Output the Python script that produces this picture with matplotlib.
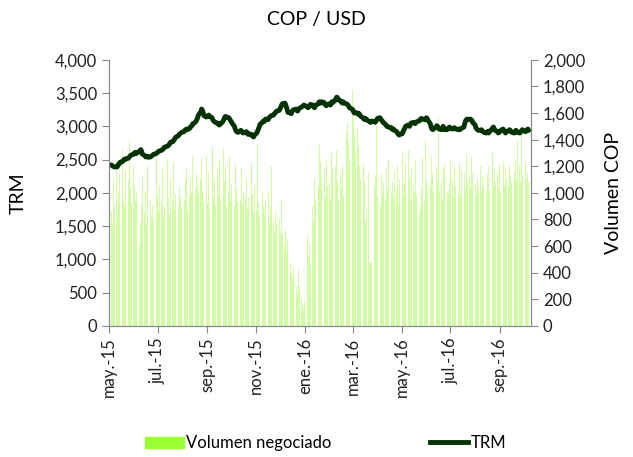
import numpy as np
import pandas as pd
import matplotlib
matplotlib.use('Agg')
import matplotlib.pyplot as plt
from matplotlib.patches import Patch
from matplotlib.lines import Line2D
from matplotlib.ticker import FuncFormatter

plt.rcParams['font.family'] = ['Lato', 'DejaVu Sans']

# dias habiles, una fila por semana (lun-vie)
fechas = pd.bdate_range('2015-05-04', '2016-10-07')

trm = np.array([
    [2420, 2410, 2400, 2395, 2390], [2390, 2400, 2430, 2440, 2460],
    [2470, 2490, 2500, 2510, 2505], [2520, 2530, 2545, 2560, 2570],
    [2580, 2600, 2610, 2590, 2600], [2620, 2640, 2650, 2620, 2580],
    [2560, 2540, 2545, 2550, 2535], [2540, 2550, 2560, 2570, 2580],
    [2590, 2600, 2610, 2620, 2630], [2640, 2650, 2660, 2680, 2690],
    [2700, 2710, 2720, 2740, 2760], [2770, 2790, 2800, 2830, 2840],
    [2860, 2880, 2890, 2900, 2910], [2920, 2940, 2950, 2960, 2950],
    [2970, 2990, 3000, 3010, 3040], [3060, 3080, 3100, 3130, 3170],
    [3220, 3260, 3240, 3200, 3160], [3140, 3150, 3160, 3170, 3150],
    [3130, 3100, 3080, 3070, 3060], [3050, 3030, 3020, 3030, 3040],
    [3080, 3110, 3140, 3150, 3140], [3130, 3110, 3090, 3070, 3050],
    [3000, 2960, 2930, 2920, 2910], [2920, 2940, 2930, 2910, 2900],
    [2910, 2920, 2900, 2880, 2890], [2880, 2860, 2850, 2840, 2870],
    [2900, 2930, 2960, 2990, 3030], [3060, 3080, 3070, 3090, 3110],
    [3100, 3120, 3140, 3150, 3160], [3170, 3190, 3200, 3220, 3230],
    [3240, 3260, 3290, 3320, 3340], [3350, 3330, 3290, 3250, 3210],
    [3200, 3190, 3220, 3240, 3250], [3260, 3240, 3230, 3250, 3270],
    [3290, 3300, 3310, 3320, 3310], [3300, 3280, 3290, 3310, 3330],
    [3320, 3300, 3280, 3300, 3320], [3340, 3370, 3360, 3350, 3370],
    [3360, 3330, 3320, 3310, 3330], [3340, 3320, 3350, 3370, 3360],
    [3390, 3420, 3440, 3430, 3400], [3380, 3360, 3350, 3370, 3350],
    [3340, 3330, 3320, 3300, 3280], [3260, 3250, 3220, 3200, 3210],
    [3200, 3180, 3190, 3170, 3150], [3130, 3110, 3100, 3120, 3100],
    [3080, 3070, 3060, 3070, 3080], [3070, 3060, 3080, 3100, 3120],
    [3130, 3110, 3090, 3080, 3060], [3030, 3010, 3000, 2990, 2990],
    [2980, 2960, 2950, 2960, 2940], [2920, 2900, 2880, 2870, 2880],
    [2890, 2920, 2950, 2970, 3000], [3020, 3010, 3000, 3030, 3050],
    [3060, 3050, 3040, 3060, 3070], [3080, 3100, 3110, 3120, 3110],
    [3100, 3110, 3130, 3120, 3090], [3040, 2990, 2960, 2950, 2960],
    [2990, 3010, 3000, 2980, 2960], [2950, 2970, 3000, 2980, 2950],
    [2950, 2960, 2980, 2990, 2970], [2960, 2970, 2980, 2970, 2960],
    [2950, 2960, 2950, 2960, 2970], [2990, 3040, 3080, 3100, 3110],
    [3100, 3110, 3100, 3090, 3060], [3020, 2980, 2960, 2950, 2940],
    [2940, 2950, 2930, 2920, 2910], [2900, 2920, 2910, 2900, 2930],
    [2950, 2980, 2990, 2960, 2940], [2920, 2900, 2910, 2920, 2940],
    [2960, 2940, 2920, 2900, 2920], [2930, 2950, 2940, 2920, 2910],
    [2900, 2920, 2940, 2930, 2910], [2900, 2920, 2930, 2950, 2940],
    [2920, 2930, 2950, 2960, 2940],
]).ravel()

volumen = np.array([
    [860, 1190, 760, 1100, 900], [1250, 820, 1000, 1150, 870],
    [1320, 950, 1050, 900, 1170], [980, 1100, 1380, 1040, 920],
    [1200, 1050, 940, 1380, 1010], [610, 640, 780, 900, 1120],
    [850, 1010, 760, 1200, 880], [950, 820, 1120, 900, 780],
    [880, 1330, 990, 860, 1050], [920, 1180, 820, 1000, 900],
    [1250, 880, 960, 830, 1100], [940, 1230, 870, 990, 1060],
    [900, 1050, 1310, 960, 880], [1020, 940, 1100, 1190, 870],
    [980, 1120, 1010, 900, 1280], [1030, 950, 1140, 1060, 990],
    [1100, 1260, 1010, 940, 1080], [1280, 920, 1000, 1150, 880],
    [1050, 1350, 960, 1110, 900], [1180, 990, 1250, 1020, 950],
    [1330, 970, 1080, 1200, 900], [1010, 1270, 940, 1060, 990],
    [900, 1220, 980, 1020, 940], [1080, 950, 1190, 910, 1000],
    [960, 1100, 880, 1030, 970], [1230, 900, 990, 850, 1050],
    [870, 1360, 930, 820, 980], [1000, 890, 1100, 830, 940],
    [820, 1010, 760, 900, 1200], [780, 700, 860, 640, 760],
    [800, 620, 700, 950, 680], [600, 720, 540, 650, 880],
    [470, 400, 520, 350, 430], [380, 300, 250, 420, 290],
    [210, 160, 130, 250, 180], [680, 700, 520, 620, 460],
    [900, 780, 1100, 950, 1360], [1050, 1360, 1000, 1230, 1120],
    [900, 1180, 980, 1250, 1050], [1070, 950, 1300, 1000, 1180],
    [1200, 1010, 1320, 1090, 950], [1150, 1040, 1210, 980, 1100],
    [1450, 1530, 1100, 1380, 1240], [1600, 1775, 1550, 1420, 1300],
    [1480, 1350, 1200, 1530, 1100], [1220, 950, 1080, 780, 880],
    [1150, 470, 480, 470, 900], [1050, 1120, 950, 1500, 980],
    [1100, 900, 1150, 1000, 1080], [950, 1180, 1020, 900, 1250],
    [1000, 1320, 1080, 960, 1150], [1030, 1200, 900, 1100, 1050],
    [1300, 980, 1150, 1070, 1220], [1020, 1320, 1100, 950, 1180],
    [1060, 1000, 1250, 1130, 980], [850, 1100, 900, 1030, 1270],
    [950, 1400, 1080, 1000, 1120], [1050, 1270, 920, 1150, 1010],
    [980, 1200, 1080, 1560, 1000], [1100, 950, 1180, 1050, 1220],
    [1010, 1150, 990, 1080, 1250], [1100, 980, 1200, 1050, 1140],
    [1000, 1230, 1060, 980, 1170], [1080, 1150, 1020, 1300, 1090],
    [1120, 1040, 1270, 1000, 1150], [1060, 1180, 990, 1100, 1040],
    [1200, 1010, 1130, 1050, 1280], [1000, 1140, 1060, 1200, 1020],
    [1100, 1300, 1050, 1180, 1080], [1150, 1030, 1220, 1090, 1000],
    [1120, 1240, 1050, 1180, 1100], [1060, 1200, 1130, 1550, 1080],
    [1150, 1020, 1250, 1100, 1400], [1200, 1080, 1500, 1130, 1050],
    [1220, 1100, 1300, 1150, 1080],
]).ravel()

meses = ['ene.', 'feb.', 'mar.', 'abr.', 'may.', 'jun.',
         'jul.', 'ago.', 'sep.', 'oct.', 'nov.', 'dic.']
ticks_x = pd.date_range('2015-05-01', '2016-09-01', freq='2MS')

fig = plt.figure(figsize=(6.33, 4.57), dpi=100)
# ax: barras (eje derecho), ax2: linea TRM (eje izquierdo)
ax = fig.add_axes([0.172, 0.287, 0.667, 0.582])
ax2 = ax.twinx()

ax.bar(fechas, volumen, width=1.0, color='#d2fba6', linewidth=0)
ax2.plot(fechas, trm, color='#003300', linewidth=3.5, solid_capstyle='round')

ax.set_ylim(0, 2000)
ax.set_yticks(np.arange(0, 2001, 200))
ax2.set_ylim(0, 4000)
ax2.set_yticks(np.arange(0, 4001, 500))

ax.yaxis.tick_right()
ax.yaxis.set_label_position('right')
ax2.yaxis.tick_left()
ax2.yaxis.set_label_position('left')

fmt = FuncFormatter(lambda v, p: f'{v:,.0f}')
ax.yaxis.set_major_formatter(fmt)
ax2.yaxis.set_major_formatter(fmt)

ax.set_xlim(pd.Timestamp('2015-05-01'), pd.Timestamp('2016-10-10'))
ax.set_xticks(ticks_x)
ax.set_xticklabels([f'{meses[d.month - 1]}-{d.strftime("%y")}' for d in ticks_x],
                   rotation=90)

ax.set_ylabel('Volumen COP', fontsize=14, labelpad=14)
ax2.set_ylabel('TRM', fontsize=14, labelpad=20)

for a in (ax, ax2):
    a.tick_params(labelsize=12, colors='#222222', length=5, color='#888888')
    for s in a.spines.values():
        s.set_color('#888888')
    a.spines['top'].set_visible(False)

fig.suptitle('COP / USD', x=0.5, y=0.975, fontsize=14)

handles = [Patch(color='#99ff33'), Line2D([], [], color='#003300', linewidth=3.5)]
fig.legend(handles, ['Volumen negociado', 'TRM'], loc='center', ncol=2,
           bbox_to_anchor=(0.515, 0.03), frameon=False, fontsize=12,
           columnspacing=5.9, handlelength=2.3, handletextpad=0.15)

fig.savefig('out.png', dpi=100)
